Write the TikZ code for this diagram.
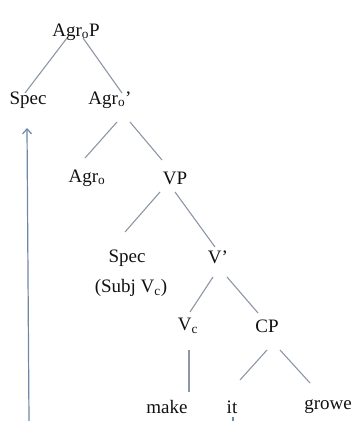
\documentclass[tikz,border=0pt]{standalone}
\usepackage{fontspec}
\setmainfont{Liberation Serif}
\usetikzlibrary{arrows.meta}
\definecolor{ink}{HTML}{111111}
\definecolor{branch1}{HTML}{8C97A6}
\definecolor{blue1}{HTML}{6F86A8}

\begin{document}
\begin{tikzpicture}[x=1pt,y=1pt,font=\fontsize{19}{21}\selectfont,
  cat/.style={text=ink,inner sep=1pt},
  branch/.style={draw=branch1,line width=1.1pt},
  move/.style={draw=blue1,line width=1.2pt,-{Straight Barb[length=5pt,width=9pt]}}]
  \useasboundingbox (0,0) rectangle (358,421);
  % the tree, row by row
  \node[cat] (agrop) at (76,389) {Agr\textsubscript{o}P};
  \node[cat] (spec1) at (28,321) {Spec}; \node[cat] (agrobar) at (110,321) {Agr\textsubscript{o}'};
  \node[cat] (agro) at (87,243) {Agr\textsubscript{o}}; \node[cat] (vp) at (175,243) {VP};
  \node[cat] (spec2) at (127,163) {Spec}; \node[cat] (vbar) at (218,164) {V'};
  \node[cat] (subj) at (131,133) {(Subj V\textsubscript{c})};
  \node[cat] (vc) at (188,95) {V\textsubscript{c}}; \node[cat] (cp) at (267,95) {CP};
  \node[cat] (make) at (167,14) {make}; \node[cat] (it) at (232,14) {it}; \node[cat] (growe) at (328,14) {growe};
  \coordinate (base) at (29,0);
  % branches (mother/offset/daughter/offset)
  \foreach \a/\ax/\ay/\b/\bx/\by in {agrop/-9/-6/spec1/-3/7, agrop/7/-6/agrobar/12/7, agrobar/7/-22/agro/-2/20,
      agrobar/20/-22/vp/-13/18, vp/-15/-14/spec2/-2/26, vp/0/-14/vbar/-3/10, vbar/-5/-20/vc/2/14,
      vbar/9/-20/cp/-9/13, vc/1/-24/make/22/15, cp/0/-24/it/8/27, cp/13/-24/growe/-18/24}
    \draw[branch] ([shift={(\ax,\ay)}]\a.center) -- ([shift={(\bx,\by)}]\b.center);
  % movement to Spec of AgrOP
  \draw[move] (base) -- ([shift={(-1,-28)}]spec1.center);
  \draw[draw=blue1,line width=1.2pt] ([shift={(1,-10)}]it.center) -- ([xshift=1pt]it |- base);
\end{tikzpicture}
\end{document}
